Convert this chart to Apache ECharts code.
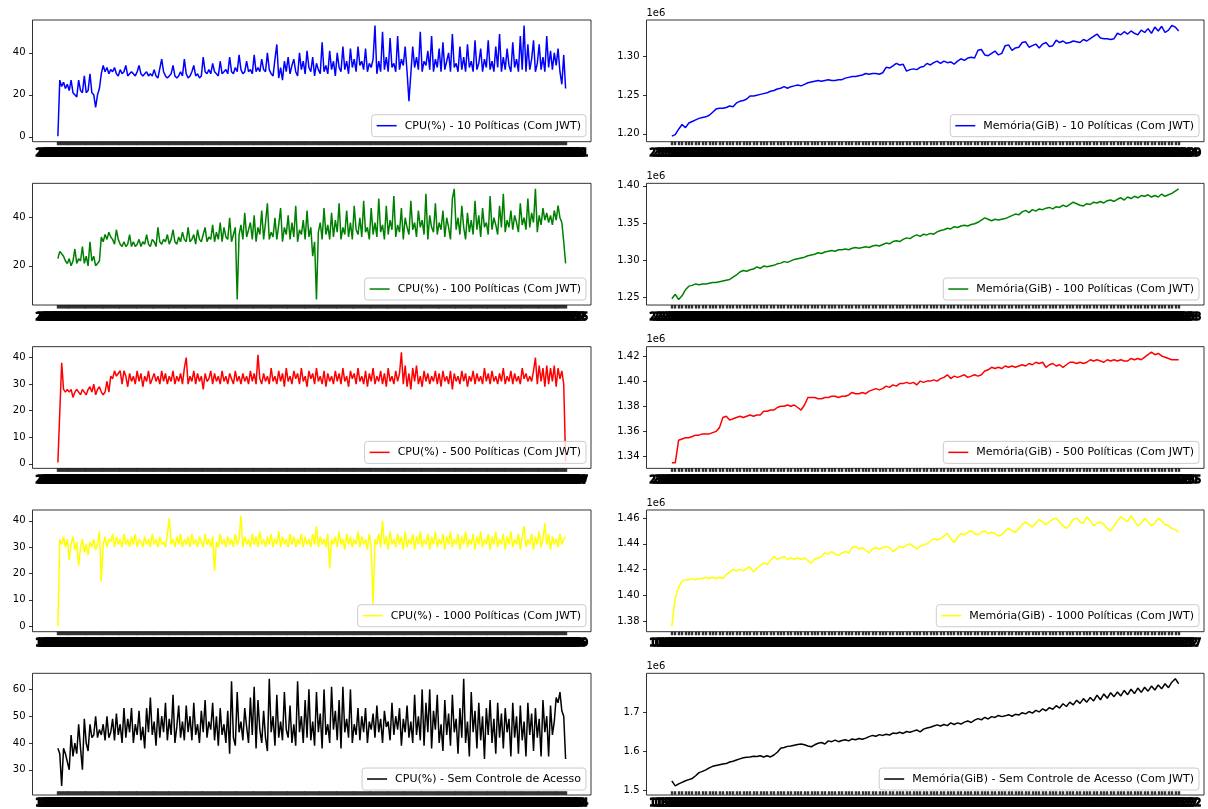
<!DOCTYPE html>
<html><head><meta charset="utf-8">
<script src="https://cdn.jsdelivr.net/npm/echarts@6/dist/echarts.min.js"></script>
<style>html,body{margin:0;padding:0;background:#fff}#c{width:1208px;height:809px}</style>
</head><body><div id="c"></div>
<script>
// ---- series values (CPU in %, memory in units of 1e6) ----
const cpu10 = [
0.3,27,24,26,23,25,22,27,21,20, 19,27,22,21,29,21,22,30,21,20,
14,20,23,30,34,31,33,30,32,31, 33,30,29,32,30,31,34,29,30,31,
30,29,31,34,30,29,30,31,29,30, 29,32,29,28,28,37,31,29,28,29,
30,34,29,28,29,31,29,37,30,28, 29,31,34,29,30,28,29,38,31,30,
32,30,35,31,30,29,36,30,31,32, 30,38,31,30,33,31,39,32,30,31,
36,31,32,30,39,31,33,31,37,32, 31,40,32,30,29,37,44,28,33,27,
36,31,38,30,34,37,31,29,40,32, 36,30,41,33,31,38,29,35,32,30,
45,31,34,30,41,32,36,29,40,33, 31,43,32,36,30,42,33,37,31,43,
34,36,32,42,31,35,33,37,53,30, 36,31,50,32,38,31,47,33,35,31,
48,32,37,34,43,31,17,30,43,33, 38,32,50,31,36,34,41,32,48,31,
37,33,42,31,45,32,36,40,31,49, 33,35,31,43,32,38,31,44,33,36,
31,46,32,35,42,31,37,33,46,32, 36,31,43,33,49,31,38,32,42,34,
31,45,33,37,31,48,32,53,31,44, 32,37,46,31,35,44,32,38,31,48,
33,41,32,40,34,42,31,25,39,23];
const cpu100 = [
23,26,25,24,22,21,23,20,22,27, 21,23,22,28,21,24,20,30,22,24,
20,21,22,32,30,33,31,34,32,31, 29,35,31,29,28,30,28,29,33,28,
30,28,29,31,28,30,29,33,29,28, 31,30,28,36,30,29,31,30,33,29,
31,35,30,29,32,30,34,31,30,36, 30,31,33,29,35,31,30,33,36,30,
32,31,37,30,34,31,38,30,36,32, 31,40,30,33,36,6,33,37,31,42,
32,35,38,31,41,30,36,33,43,31, 38,46,31,34,32,40,31,37,44,30,
36,33,41,31,38,32,45,30,35,33, 39,31,43,32,36,24,30,6,34,38,
31,44,33,37,31,42,32,39,34,46, 31,36,33,43,32,38,31,45,35,33,
40,32,47,34,36,31,44,33,38,32, 48,34,37,31,45,33,39,35,49,32,
37,34,44,31,40,36,33,47,35,38, 32,43,36,39,33,50,31,41,36,34,
46,33,38,35,43,32,40,36,31,48, 52,35,40,33,45,36,31,42,34,39,
33,47,35,41,32,44,36,38,33,49, 35,40,37,33,45,36,50,34,39,36,
43,35,41,38,34,46,37,40,35,48, 36,42,38,52,34,41,37,44,39,42,
38,41,37,43,39,45,40,38,30,21];
const cpu500 = [
0.5,0.4,38,28,27,28,27,28,25,27, 28,27,26,28,27,26,28,29,27,30,
26,28,29,27,26,27,31,27,33,32, 35,33,34,35,30,35,33,29,34,31,
33,30,35,31,34,29,33,31,35,30, 32,34,31,33,30,35,31,34,30,33,
31,35,30,33,31,34,30,36,40,30, 33,31,35,30,34,31,33,28,34,31,
32,35,30,34,31,33,30,35,31,33, 30,34,32,30,35,31,33,30,34,31,
33,30,35,31,34,30,41,32,30,34, 31,33,30,36,31,33,30,35,31,34,
29,36,31,33,30,35,32,34,30,36, 31,33,29,35,32,34,30,36,31,33,
30,35,29,34,31,33,30,35,31,34, 30,36,31,33,29,35,32,34,30,36,
31,33,30,35,29,34,31,36,30,33, 31,35,30,34,29,36,31,33,30,35,
31,34,42,30,37,29,34,28,36,31, 37,30,33,29,35,31,34,30,33,31,
35,30,34,29,35,31,33,30,35,28, 34,31,33,30,35,31,34,29,33,31,
35,30,34,31,33,30,36,31,34,30, 35,31,33,30,34,31,36,30,33,31,
35,30,34,31,33,30,36,32,34,31, 33,31,35,40,30,37,31,36,29,37,
30,36,31,37,29,36,32,35,30,1];
const cpu1000 = [
0,33,31,34,30,33,25,31,34,29, 32,23,30,33,28,31,27,32,30,33,
29,31,36,17,31,34,30,33,32,35, 30,34,31,33,30,35,31,33,30,34,
31,35,30,33,32,30,34,31,33,30, 35,31,33,30,34,31,32,30,35,41,
31,33,30,34,31,35,30,33,31,34, 30,35,31,33,30,34,32,30,35,31,
33,30,34,21,32,30,35,31,33,30, 34,31,33,30,35,31,33,42,30,34,
31,33,30,35,31,34,30,36,31,33, 30,34,31,35,30,33,31,36,30,34,
31,33,30,35,31,34,30,33,31,35, 30,34,31,33,30,35,31,38,30,34,
31,33,30,35,22,33,31,34,30,36, 31,33,29,35,31,34,30,33,31,36,
30,34,31,33,29,35,30,8,33,31, 35,30,40,31,34,29,36,31,33,30,
35,31,34,29,36,30,33,31,35,29, 34,31,36,30,33,31,35,29,34,31,
36,30,33,31,35,29,34,31,36,30, 33,31,35,29,34,31,36,30,33,31,
35,29,34,31,36,30,33,31,35,29, 34,31,36,30,33,31,35,29,34,31,
36,30,33,31,35,29,34,38,30,33, 31,35,29,34,31,36,30,33,39,31,
35,29,34,31,33,30,35,31,33,34];
const cpuNone = [
38,36,24,38,36,33,30,43,35,40, 36,47,38,30,49,40,37,47,42,43,
50,42,45,43,47,41,50,42,44,49, 41,51,43,47,40,53,42,49,44,53,
40,47,43,52,41,46,38,53,44,57, 43,48,39,53,42,50,44,55,41,49,
43,58,40,46,54,42,48,41,54,44, 50,41,55,43,47,40,52,44,56,42,
48,45,55,41,50,39,53,43,47,40, 52,36,63,42,39,59,44,48,41,53,
46,40,57,43,61,38,56,45,40,52, 42,37,64,44,50,39,58,42,48,41,
59,45,42,54,40,47,39,63,44,50, 40,56,42,60,41,48,39,59,44,51,
38,60,43,47,40,61,45,52,41,56, 38,61,44,49,42,60,40,47,43,53,
41,50,44,53,40,48,45,51,42,54, 44,49,40,52,46,48,41,55,43,50,
45,53,39,49,44,54,42,48,40,58, 43,50,41,60,39,55,44,60,38,52,
45,58,40,47,37,56,43,51,39,58, 44,49,36,53,42,64,40,48,35,59,
44,52,38,55,41,50,34,53,43,56, 40,49,36,55,42,51,38,53,44,49,
35,55,42,50,36,54,41,48,35,55, 43,51,37,53,42,49,35,56,44,50,
35,54,43,48,57,55,59,52,50,34];
const mem10 = [
1.197,1.199,1.206,1.212,1.208,1.214,1.216,1.218,1.220,1.221,
1.222,1.224,1.228,1.232,1.233,1.233,1.234,1.236,1.235,1.240,
1.242,1.243,1.245,1.249,1.249,1.250,1.251,1.252,1.253,1.255,
1.256,1.258,1.259,1.261,1.259,1.261,1.262,1.263,1.262,1.264,
1.266,1.267,1.268,1.269,1.268,1.269,1.270,1.269,1.269,1.270,
1.270,1.272,1.273,1.274,1.274,1.275,1.276,1.278,1.277,1.278,
1.278,1.277,1.279,1.286,1.285,1.288,1.291,1.289,1.290,1.281,
1.283,1.284,1.283,1.286,1.287,1.291,1.289,1.292,1.294,1.291,
1.294,1.292,1.293,1.290,1.294,1.297,1.295,1.298,1.299,1.298,
1.308,1.309,1.302,1.301,1.304,1.307,1.302,1.304,1.314,1.315,
1.308,1.311,1.312,1.318,1.319,1.312,1.314,1.316,1.311,1.316,
1.318,1.313,1.314,1.321,1.318,1.320,1.317,1.318,1.320,1.319,
1.318,1.322,1.320,1.323,1.326,1.329,1.324,1.323,1.323,1.322,
1.323,1.330,1.328,1.332,1.329,1.333,1.330,1.328,1.334,1.331,
1.336,1.330,1.338,1.333,1.339,1.331,1.334,1.340,1.338,1.333];
const mem100 = [
1.248,1.254,1.247,1.252,1.260,1.265,1.266,1.268,1.267,1.268,
1.268,1.269,1.270,1.270,1.271,1.272,1.273,1.274,1.277,1.280,
1.284,1.286,1.285,1.287,1.288,1.291,1.289,1.292,1.291,1.292,
1.293,1.295,1.296,1.298,1.297,1.299,1.301,1.302,1.303,1.304,
1.306,1.307,1.308,1.310,1.309,1.311,1.312,1.313,1.312,1.314,
1.314,1.315,1.314,1.316,1.317,1.316,1.317,1.318,1.317,1.319,
1.320,1.319,1.321,1.323,1.322,1.325,1.326,1.325,1.328,1.330,
1.329,1.332,1.334,1.332,1.335,1.334,1.336,1.335,1.338,1.340,
1.341,1.343,1.342,1.345,1.344,1.346,1.347,1.346,1.348,1.349,
1.351,1.354,1.357,1.355,1.353,1.355,1.354,1.355,1.356,1.358,
1.360,1.362,1.361,1.365,1.367,1.364,1.368,1.366,1.369,1.368,
1.370,1.371,1.369,1.372,1.371,1.374,1.372,1.375,1.378,1.376,
1.374,1.373,1.376,1.375,1.378,1.377,1.379,1.377,1.380,1.381,
1.379,1.382,1.384,1.381,1.385,1.383,1.386,1.384,1.387,1.386,
1.388,1.385,1.387,1.385,1.389,1.386,1.388,1.390,1.393,1.396];
const mem500 = [
1.335,1.335,1.353,1.354,1.355,1.355,1.356,1.357,1.357,1.358,
1.358,1.358,1.359,1.360,1.363,1.371,1.372,1.369,1.370,1.371,
1.372,1.371,1.372,1.373,1.372,1.373,1.373,1.376,1.376,1.377,
1.377,1.379,1.380,1.380,1.381,1.380,1.381,1.379,1.377,1.381,
1.387,1.387,1.387,1.386,1.386,1.387,1.387,1.388,1.388,1.387,
1.388,1.388,1.389,1.391,1.390,1.390,1.391,1.390,1.392,1.393,
1.394,1.393,1.394,1.396,1.395,1.397,1.396,1.398,1.398,1.399,
1.398,1.399,1.397,1.400,1.399,1.400,1.400,1.401,1.400,1.402,
1.403,1.405,1.402,1.404,1.403,1.404,1.405,1.403,1.404,1.405,
1.404,1.405,1.408,1.409,1.411,1.410,1.411,1.410,1.412,1.411,
1.412,1.411,1.412,1.413,1.412,1.414,1.413,1.415,1.414,1.415,
1.411,1.413,1.414,1.412,1.413,1.411,1.413,1.415,1.415,1.414,
1.415,1.414,1.415,1.417,1.416,1.417,1.416,1.415,1.417,1.416,
1.417,1.416,1.417,1.416,1.416,1.418,1.417,1.418,1.417,1.419,
1.421,1.423,1.421,1.422,1.420,1.419,1.418,1.417,1.417,1.417];
const mem1000 = [
1.376,1.398,1.406,1.411,1.412,1.412,1.413,1.412,1.413,1.413,
1.414,1.413,1.414,1.413,1.414,1.413,1.416,1.418,1.420,1.419,
1.420,1.419,1.421,1.422,1.418,1.421,1.423,1.425,1.424,1.427,
1.430,1.428,1.429,1.430,1.428,1.429,1.428,1.429,1.428,1.429,
1.427,1.425,1.428,1.429,1.430,1.433,1.432,1.434,1.432,1.431,
1.433,1.434,1.433,1.437,1.438,1.436,1.437,1.435,1.433,1.436,
1.437,1.436,1.437,1.438,1.437,1.434,1.436,1.438,1.437,1.439,
1.440,1.438,1.436,1.438,1.439,1.440,1.442,1.444,1.443,1.444,
1.446,1.448,1.444,1.441,1.445,1.448,1.447,1.449,1.450,1.448,
1.447,1.449,1.450,1.448,1.449,1.448,1.446,1.447,1.450,1.452,
1.450,1.449,1.452,1.455,1.457,1.455,1.453,1.456,1.459,1.457,
1.455,1.457,1.459,1.460,1.457,1.454,1.452,1.455,1.459,1.460,
1.457,1.456,1.461,1.458,1.454,1.456,1.457,1.455,1.452,1.450,
1.454,1.458,1.461,1.459,1.457,1.462,1.458,1.454,1.456,1.460,
1.457,1.454,1.456,1.460,1.458,1.455,1.454,1.452,1.451,1.449];
const memNone = [
1.524,1.511,1.516,1.520,1.524,1.527,1.530,1.537,1.545,1.548,
1.552,1.557,1.561,1.563,1.565,1.567,1.568,1.572,1.574,1.577,
1.580,1.583,1.584,1.585,1.587,1.586,1.588,1.585,1.588,1.585,
1.590,1.597,1.607,1.609,1.612,1.613,1.615,1.617,1.618,1.616,
1.613,1.611,1.616,1.620,1.622,1.618,1.626,1.624,1.628,1.624,
1.627,1.629,1.626,1.631,1.629,1.632,1.630,1.633,1.637,1.640,
1.638,1.642,1.640,1.643,1.641,1.646,1.645,1.648,1.645,1.650,
1.648,1.651,1.654,1.649,1.656,1.659,1.661,1.664,1.667,1.664,
1.668,1.665,1.672,1.668,1.672,1.669,1.674,1.677,1.673,1.679,
1.683,1.680,1.686,1.682,1.688,1.686,1.691,1.688,1.690,1.693,
1.689,1.694,1.692,1.698,1.695,1.701,1.697,1.704,1.700,1.708,
1.703,1.711,1.707,1.716,1.710,1.721,1.714,1.725,1.718,1.730,
1.722,1.734,1.725,1.737,1.728,1.743,1.731,1.746,1.735,1.749,
1.739,1.751,1.741,1.755,1.744,1.758,1.747,1.761,1.750,1.763,
1.753,1.766,1.756,1.769,1.759,1.772,1.762,1.776,1.785,1.772];

// ---- tick labels ----
const cpu10Ticks = [0, 20, 40];
const cpu100Ticks = [20, 40];
const cpu500Ticks = [0, 10, 20, 30, 40];
const cpu1000Ticks = [0, 10, 20, 30, 40];
const cpuNoneTicks = [30, 40, 50, 60];
const mem10Ticks = [1.20, 1.25, 1.30];
const mem100Ticks = [1.25, 1.30, 1.35, 1.40];
const mem500Ticks = [1.34, 1.36, 1.38, 1.40, 1.42];
const mem1000Ticks = [1.38, 1.40, 1.42, 1.44, 1.46];
const memNoneTicks = [1.5, 1.6, 1.7];

// ---- series names ----
const names = [
  'CPU(%) - 10 Políticas (Com JWT)', 'Memória(GiB) - 10 Políticas (Com JWT)',
  'CPU(%) - 100 Políticas (Com JWT)', 'Memória(GiB) - 100 Políticas (Com JWT)',
  'CPU(%) - 500 Políticas (Com JWT)', 'Memória(GiB) - 500 Políticas (Com JWT)',
  'CPU(%) - 1000 Políticas (Com JWT)', 'Memória(GiB) - 1000 Políticas (Com JWT)',
  'CPU(%) - Sem Controle de Acesso', 'Memória(GiB) - Sem Controle de Acesso (Com JWT)'
];
const colors = ['#0000ff', '#008000', '#ff0000', '#ffff00', '#000000'];

// category labels (timestamps of samples)
function timeLabels(n, start, step) {
  const p = start.split(':').map(Number);
  const t0 = p[0] * 3600 + p[1] * 60 + p[2];
  const out = [];
  for (let i = 0; i < n; i++) {
    const t = (t0 + i * step) % 86400;
    out.push([Math.floor(t / 3600), Math.floor(t / 60) % 60, t % 60]
      .map(v => String(v).padStart(2, '0')).join(':'));
  }
  return out;
}

const panels = [
  { data: cpu10, ticks: cpu10Ticks, dec: 0, row: 0, col: 0, sci: false, start: '21:17:04', step: 3 },
  { data: mem10, ticks: mem10Ticks, dec: 2, row: 0, col: 1, sci: true, start: '21:17:04', step: 5 },
  { data: cpu100, ticks: cpu100Ticks, dec: 0, row: 1, col: 0, sci: false, start: '22:13:08', step: 3 },
  { data: mem100, ticks: mem100Ticks, dec: 2, row: 1, col: 1, sci: true, start: '22:13:08', step: 5 },
  { data: cpu500, ticks: cpu500Ticks, dec: 0, row: 2, col: 0, sci: false, start: '23:05:10', step: 3 },
  { data: mem500, ticks: mem500Ticks, dec: 2, row: 2, col: 1, sci: true, start: '23:05:10', step: 5 },
  { data: cpu1000, ticks: cpu1000Ticks, dec: 0, row: 3, col: 0, sci: false, start: '10:02:12', step: 3 },
  { data: mem1000, ticks: mem1000Ticks, dec: 2, row: 3, col: 1, sci: true, start: '10:02:12', step: 5 },
  { data: cpuNone, ticks: cpuNoneTicks, dec: 0, row: 4, col: 0, sci: false, start: '11:20:07', step: 3 },
  { data: memNone, ticks: memNoneTicks, dec: 1, row: 4, col: 1, sci: true, start: '11:20:07', step: 5 }
];

const FONT = 'DejaVu Sans';
const CW = 1208, CH = 809;
const FRAME_L = [32.5, 646.5], FRAME_R = [591, 1204];
const ROW_TOP = 20, ROW_PITCH = 163.33, ROW_H = 121.7;

const grid = [], xAxis = [], yAxis = [], series = [], legend = [], graphic = [];
panels.forEach((p, i) => {
  const fl = FRAME_L[p.col], fr = FRAME_R[p.col];
  const ft = ROW_TOP + ROW_PITCH * p.row, fb = ft + ROW_H;
  const span = (fr - fl) / 1.1;
  const gl = fl + 0.05 * span;
  const dmin = Math.min(...p.data), dmax = Math.max(...p.data);
  const r = dmax - dmin;
  const name = names[i];
  const color = colors[p.row];
  const cats = timeLabels(p.data.length, p.start, p.step);

  grid.push({ left: gl, top: ft, width: span, height: ROW_H, containLabel: false });
  xAxis.push({
    gridIndex: i, type: 'category', data: cats, boundaryGap: false, position: 'bottom',
    axisLine: { show: false, onZero: false },
    axisTick: { show: true, interval: 0, length: 3.5, lineStyle: { color: '#333', width: 2.4 } },
    axisLabel: { interval: 0, fontSize: 10, fontFamily: FONT, color: '#000', margin: 7,
                 textBorderColor: '#000', textBorderWidth: 1.5 },
    splitLine: { show: false }
  });
  yAxis.push({
    gridIndex: i, type: 'value', min: dmin - 0.05 * r, max: dmax + 0.05 * r,
    offset: gl - fl,
    axisLine: { show: false, onZero: false }, splitLine: { show: false },
    axisTick: { show: true, length: 3.5, lineStyle: { color: '#000', width: 0.8 }, customValues: p.ticks },
    axisLabel: { customValues: p.ticks, formatter: v => Number(v).toFixed(p.dec), fontSize: 10, fontFamily: FONT, color: '#000', margin: 7 },
    name: p.sci ? '1e6' : '', nameLocation: 'end', nameGap: 2,
    nameTextStyle: { align: 'left', verticalAlign: 'bottom', fontSize: 10, fontFamily: FONT, color: '#000' }
  });
  series.push({
    type: 'line', name: name, xAxisIndex: i, yAxisIndex: i, data: p.data,
    showSymbol: false, symbol: 'none', animation: false,
    lineStyle: { width: 1.5, color: color }, itemStyle: { color: color }
  });
  legend.push({
    data: [name], right: CW - (fr - 5), bottom: CH - (fb - 5),
    icon: 'rect', itemWidth: 20, itemHeight: 1.5,
    padding: [4.5, 5, 4.5, 5], backgroundColor: 'rgba(255,255,255,0.8)',
    borderColor: '#cccccc', borderWidth: 1, borderRadius: 3,
    selectedMode: false, z: 6,
    textStyle: { fontSize: 11, fontFamily: FONT, color: '#000', lineHeight: 13, padding: [0, 0, 0, 3] }
  });
  graphic.push({
    type: 'rect', silent: true, z: 10,
    shape: { x: fl, y: ft, width: fr - fl, height: ROW_H },
    style: { fill: 'none', stroke: '#000', lineWidth: 0.8 }
  });
});

const chart = echarts.init(document.getElementById('c'), null, { renderer: 'canvas' });
chart.setOption({
  animation: false, backgroundColor: '#fff',
  grid, xAxis, yAxis, series, legend, graphic
});
</script>
</body></html>
